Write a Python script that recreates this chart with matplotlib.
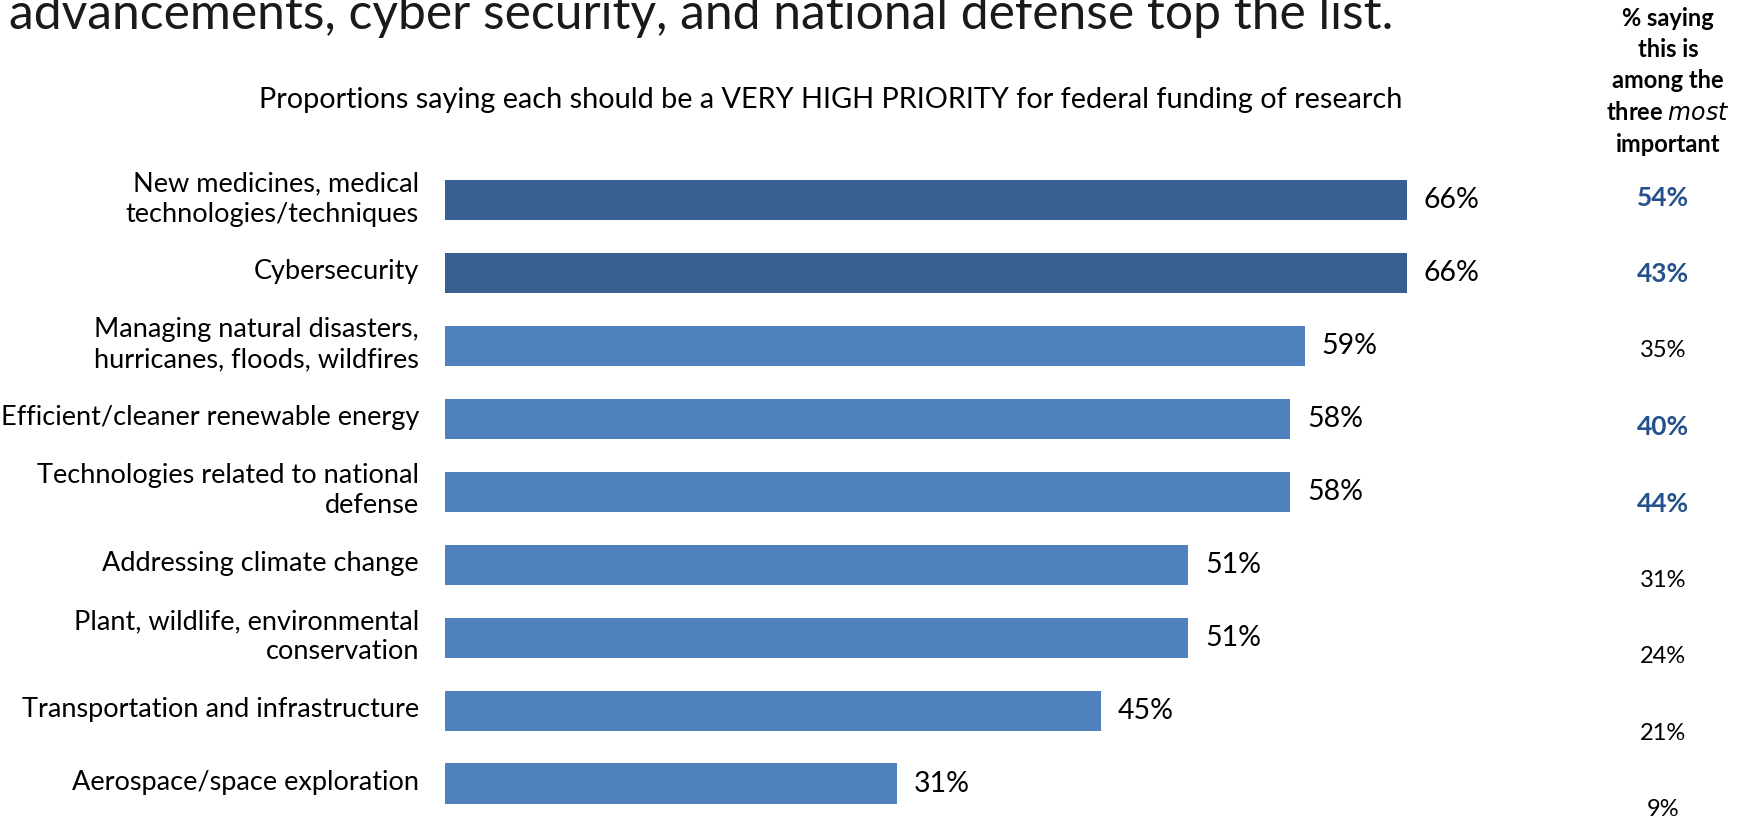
import matplotlib
matplotlib.use("Agg")
import matplotlib.pyplot as plt

plt.rcParams['font.family'] = ['Lato', 'DejaVu Sans']

categories = [
    "New medicines, medical\ntechnologies/techniques",
    "Cybersecurity",
    "Managing natural disasters,\nhurricanes, floods, wildfires",
    "Efficient/cleaner renewable energy",
    "Technologies related to national\ndefense",
    "Addressing climate change",
    "Plant, wildlife, environmental\nconservation",
    "Transportation and infrastructure",
    "Aerospace/space exploration",
]
very_high_priority = [66, 66, 59, 58, 58, 51, 51, 45, 31]
top_three = [54, 43, 35, 40, 44, 31, 24, 21, 9]
top_three_highlight = [True, True, False, True, True, False, False, False, False]
top_bar_highlight = [True, True, False, False, False, False, False, False, False]

title = "advancements, cyber security, and national defense top the list."
subtitle = "Proportions saying each should be a VERY HIGH PRIORITY for federal funding of research"
side_header = ["% saying", "this is", "among the", "three $\\mathit{most}$", "important"]

DARK = "#386192"
LIGHT = "#4F81BD"
BLUE_TEXT = "#24508B"

W, H = 1742, 821
fig = plt.figure(figsize=(W / 100, H / 100), dpi=100)
fig.patch.set_facecolor("white")


def box(x0, y0, x1, y1):
    """Figure rectangle from pixel edges (top-left origin)."""
    return [x0 / W, 1 - y1 / H, (x1 - x0) / W, (y1 - y0) / H]


# main bar panel
ax = fig.add_axes(box(445, 163.5, 445 + 80 * 14.57, 820))
n = len(categories)
ypos = list(range(n))
colors = [DARK if h else LIGHT for h in top_bar_highlight]
ax.barh(ypos, very_high_priority, height=0.55, color=colors, edgecolor="none")
ax.set_xlim(0, 80)
ax.set_ylim(n - 0.5, -0.5)
ax.axis("off")

for i, (cat, v) in enumerate(zip(categories, very_high_priority)):
    ax.annotate(f"{v}%", xy=(v, i), xytext=(17, 0), textcoords="offset pixels",
                va="center", ha="left", fontsize=20.5, color="black")
    ax.annotate(cat, xy=(0, i), xytext=(-26, 1), textcoords="offset pixels",
                va="center", ha="right", fontsize=19.5, color="black",
                linespacing=1.27)

# side column of "top three" shares
ax2 = fig.add_axes(box(1603, 159.5, 1723, 848))
ax2.set_xlim(0, 1)
ax2.set_ylim(n - 0.5, -0.5)
ax2.axis("off")
for i, (v, hl) in enumerate(zip(top_three, top_three_highlight)):
    ax2.text(0.5, i, f"{v}%", ha="center", va="center",
             fontsize=19 if hl else 17, fontweight="bold" if hl else "normal",
             color=BLUE_TEXT if hl else "black")

for k, line in enumerate(side_header):
    fig.text(1668 / W, 1 - (18 + 31.5 * k) / H, line, ha="center", va="center",
             fontsize=17, fontweight="bold", color="black")

fig.text(9 / W, 1 - 29 / H, title, ha="left", va="baseline",
         fontsize=35.8, color="#1a1a1a")
fig.text(831 / W, 1 - 100 / H, subtitle, ha="center", va="center",
         fontsize=20.8, color="black")

fig.savefig("out.png", dpi=100, facecolor="white")
